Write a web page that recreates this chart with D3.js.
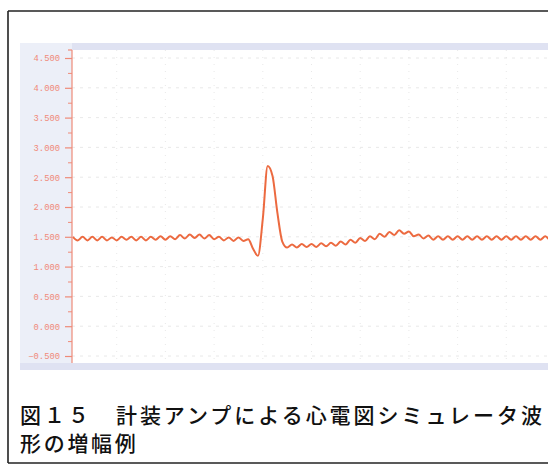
<!DOCTYPE html>
<html><head><meta charset="utf-8">
<script src="https://cdn.jsdelivr.net/npm/d3@7"></script>
<style>html,body{margin:0;padding:0;background:#fff;overflow:hidden}</style>
</head><body>
<svg id="c" width="548" height="464"></svg>
<script>
// ---- data ----
const sampleStep = 0.01;   // s per sample
const firstTime = 0.01;
const ecgValues = [
  1.50,1.44,1.50,1.44,1.50,1.44,1.50,1.44,1.49,1.44,
  1.50,1.45,1.50,1.44,1.50,1.44,1.50,1.45,1.51,1.45,
  1.51,1.46,1.53,1.47,1.54,1.48,1.54,1.47,1.53,1.46,
  1.50,1.44,1.49,1.43,1.49,1.43,1.46,1.30,1.18,1.80,
  2.69,2.52,1.90,1.42,1.32,1.37,1.32,1.38,1.33,1.38,
  1.33,1.39,1.34,1.40,1.35,1.42,1.37,1.45,1.40,1.48,
  1.43,1.51,1.46,1.55,1.50,1.58,1.53,1.61,1.55,1.59,
  1.51,1.54,1.47,1.52,1.45,1.51,1.45,1.51,1.45,1.51,
  1.45,1.51,1.45,1.51,1.45,1.51,1.45,1.51,1.45,1.51,
  1.45,1.51,1.45,1.51,1.45,1.51,1.45,1.51,1.45,1.51
];
const yTicks = [-0.5,0,0.5,1,1.5,2,2.5,3,3.5,4,4.5];
const yMinorTicks = [-0.25,0.25,0.75,1.25,1.75,2.25,2.75,3.25,3.75,4.25];
const xGrid = [0.1,0.2,0.3,0.4,0.5,0.6,0.7,0.8,0.9,1.0];
const captionLine1 = "図１５　計装アンプによる心電図シミュレータ波";
const captionLine2 = "形の増幅例";

const data = ecgValues.map((v,i)=>({t: firstTime + i*sampleStep, v}));

// ---- layout ----
const svg = d3.select("#c");
const plot = {left:72, right:548, top:50, bottom:363};
const x = d3.scaleLinear().domain([0,1]).range([68,555]);
const y = d3.scaleLinear().domain([-0.5,4.5]).range([356,58]);

// outer frame
svg.append("line").attr("x1",8).attr("x2",548).attr("y1",11).attr("y2",11).attr("stroke","#222").attr("stroke-width",1.6);
svg.append("line").attr("x1",8).attr("x2",8).attr("y1",11).attr("y2",463).attr("stroke","#222").attr("stroke-width",1.6);
svg.append("line").attr("x1",8).attr("x2",548).attr("y1",463).attr("y2",463).attr("stroke","#222").attr("stroke-width",1.6);

// light blue panel
svg.append("rect").attr("x",20).attr("y",43).attr("width",528).attr("height",327).attr("fill","#eceff8");
svg.append("rect").attr("x",72).attr("y",43).attr("width",476).attr("height",7).attr("fill","#dfe2f2");
svg.append("rect").attr("x",20).attr("y",363).attr("width",528).attr("height",7).attr("fill","#dfe2f2");
svg.append("rect").attr("x",plot.left).attr("y",plot.top).attr("width",plot.right-plot.left).attr("height",plot.bottom-plot.top).attr("fill","#fff");

svg.append("clipPath").attr("id","pc").append("rect")
  .attr("x",plot.left).attr("y",plot.top).attr("width",plot.right-plot.left).attr("height",plot.bottom-plot.top);

// grid
const g = svg.append("g").attr("clip-path","url(#pc)");
g.selectAll(".hg").data(yTicks).join("line")
  .attr("x1",plot.left).attr("x2",plot.right)
  .attr("y1",d=>y(d)).attr("y2",d=>y(d))
  .attr("stroke","#e2e2e2").attr("stroke-width",0.8).attr("stroke-dasharray","3,5");
g.selectAll(".vg").data(xGrid).join("line")
  .attr("x1",d=>x(d)).attr("x2",d=>x(d))
  .attr("y1",plot.top).attr("y2",plot.bottom)
  .attr("stroke","#e2e2e2").attr("stroke-width",0.8).attr("stroke-dasharray","1,6");

// y axis
const axisColor = "#ef8a78";
const ax = svg.append("g").attr("transform",`translate(${plot.left},0)`)
  .call(d3.axisLeft(y).tickValues(yTicks).tickFormat(d3.format(".3f")).tickSize(7).tickPadding(5));
ax.select(".domain").remove();
ax.selectAll("line").attr("stroke",axisColor).attr("stroke-width",1.2);
ax.selectAll("text").attr("fill","#f08a7a").attr("font-family","'Liberation Mono', monospace").attr("font-size","8.8px");
const axm = svg.append("g").attr("transform",`translate(${plot.left},0)`)
  .call(d3.axisLeft(y).tickValues(yMinorTicks).tickFormat("").tickSize(4));
axm.select(".domain").remove();
axm.selectAll("line").attr("stroke",axisColor).attr("stroke-width",1);
svg.append("line").attr("x1",plot.left).attr("x2",plot.left).attr("y1",plot.top).attr("y2",plot.bottom)
  .attr("stroke",axisColor).attr("stroke-width",1.2);
svg.append("line").attr("x1",plot.left-4).attr("x2",plot.left).attr("y1",plot.top).attr("y2",plot.top)
  .attr("stroke",axisColor).attr("stroke-width",1.2);

// signal
const line = d3.line().x(d=>x(d.t)).y(d=>y(d.v)).curve(d3.curveMonotoneX);
g.append("path").datum(data).attr("d",line)
  .attr("fill","none").attr("stroke","#ec6a40").attr("stroke-width",2).attr("stroke-linejoin","round");

// caption
const cap = svg.append("g").attr("font-family","'Noto Sans CJK JP', sans-serif").attr("fill","#111").attr("font-weight","500");
cap.append("text").attr("x",20).attr("y",423).attr("font-size","21px").attr("textLength",522).attr("lengthAdjust","spacing").text(captionLine1);
cap.append("text").attr("x",20).attr("y",451).attr("font-size","21px").attr("letter-spacing","2.7px").text(captionLine2);
</script>
</body></html>
